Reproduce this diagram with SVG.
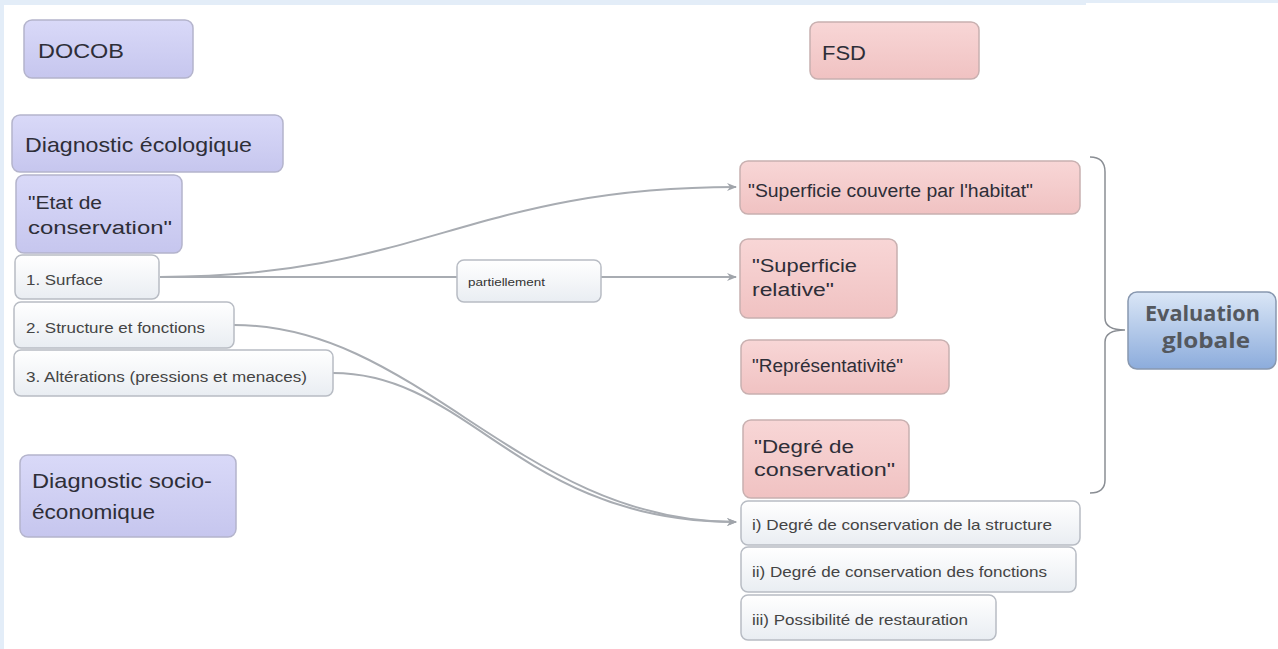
<svg xmlns="http://www.w3.org/2000/svg" width="1278" height="649" viewBox="0 0 1278 649">
<defs>
<linearGradient id="gL" x1="0" y1="0" x2="0" y2="1"><stop offset="0" stop-color="#d9d9f8"/><stop offset="1" stop-color="#c6c6ee"/></linearGradient>
<linearGradient id="gP" x1="0" y1="0" x2="0" y2="1"><stop offset="0" stop-color="#f8d6d6"/><stop offset="1" stop-color="#f0c2c2"/></linearGradient>
<linearGradient id="gW" x1="0" y1="0" x2="0" y2="1"><stop offset="0" stop-color="#ffffff"/><stop offset="1" stop-color="#e9edf2"/></linearGradient>
<linearGradient id="gB" x1="0" y1="0" x2="0" y2="1"><stop offset="0" stop-color="#dae6f6"/><stop offset="1" stop-color="#8cacdc"/></linearGradient>
<marker id="arr" markerWidth="10" markerHeight="8" refX="9" refY="4" orient="auto" markerUnits="userSpaceOnUse"><path d="M0,0 L10,4 L0,8 L3,4 Z" fill="#a0a4aa"/></marker>
</defs>
<style>
.lav{fill:url(#gL);stroke:#b4b4cc;stroke-width:1.5}
.pink{fill:url(#gP);stroke:#c8b0b0;stroke-width:1.5}
.wht{fill:url(#gW);stroke:#b8bcc4;stroke-width:1.5}
.blu{fill:url(#gB);stroke:#8898b0;stroke-width:1.5}
text{font-family:"Liberation Sans",Arial,sans-serif;fill:#2e2e38}
.t21{font-size:21px}
.t18{font-size:18px}
.t15{font-size:15px;fill:#444}
.t10{font-size:10px;fill:#333}
.ev{font-family:"Open Sans","Liberation Sans",sans-serif;font-weight:bold;font-size:21px;fill:#54585e}
.conn{fill:none;stroke:#a8acb2;stroke-width:2}
</style>
<rect x="0" y="0" width="1278" height="649" fill="#ffffff"/>
<rect x="0" y="0" width="1086" height="5" fill="#e3edf8"/>
<rect x="1086" y="0" width="192" height="3" fill="#e3edf8"/>
<rect x="0" y="0" width="4" height="649" fill="#e3edf8"/>

<g id="connectors">
<path class="conn" d="M160,277 C420,277 470,187 736,187" marker-end="url(#arr)"/>
<path class="conn" d="M160,277 L457,277"/>
<path class="conn" d="M601,277 L736,277" marker-end="url(#arr)"/>
<path class="conn" d="M234,325 C420,325 520,522 736,522" marker-end="url(#arr)"/>
<path class="conn" d="M333,373 C470,373 520,522 736,522" marker-end="url(#arr)"/>
<path fill="none" stroke="#8a8e94" stroke-width="1.5" d="M1090,157 Q1105,157 1105,172 L1105,318 Q1105,330 1125,330 Q1105,330 1105,342 L1105,480 Q1105,493 1090,493"/>
</g>

<g id="docob"><rect class="lav" x="24" y="20" width="169" height="58" rx="8"/><text class="t21" x="38" y="58" textLength="86" lengthAdjust="spacingAndGlyphs">DOCOB</text></g>
<g id="fsd"><rect class="pink" x="810" y="22" width="169" height="57" rx="8"/><text class="t21" x="822" y="60" textLength="44" lengthAdjust="spacingAndGlyphs">FSD</text></g>
<g id="diag-eco"><rect class="lav" x="12" y="115" width="271" height="57" rx="8"/><text class="t21" x="25" y="152" textLength="227" lengthAdjust="spacingAndGlyphs">Diagnostic écologique</text></g>
<g id="etat"><rect class="lav" x="16" y="175" width="166" height="78" rx="8"/><text class="t18" x="28" y="209" textLength="74" lengthAdjust="spacingAndGlyphs">"Etat de</text><text class="t18" x="28" y="234" textLength="144" lengthAdjust="spacingAndGlyphs">conservation"</text></g>
<g id="surface"><rect class="wht" x="15" y="255" width="144" height="44" rx="7"/><text class="t15" x="26" y="285" textLength="77" lengthAdjust="spacingAndGlyphs">1. Surface</text></g>
<g id="structure"><rect class="wht" x="14" y="302" width="220" height="46" rx="7"/><text class="t15" x="26" y="333" textLength="179" lengthAdjust="spacingAndGlyphs">2. Structure et fonctions</text></g>
<g id="alterations"><rect class="wht" x="14" y="350" width="319" height="46" rx="7"/><text class="t15" x="26" y="382" textLength="281" lengthAdjust="spacingAndGlyphs">3. Altérations (pressions et menaces)</text></g>
<g id="diag-socio"><rect class="lav" x="20" y="455" width="216" height="82" rx="8"/><text class="t21" x="32" y="488" textLength="180" lengthAdjust="spacingAndGlyphs">Diagnostic socio-</text><text class="t21" x="32" y="519" textLength="123" lengthAdjust="spacingAndGlyphs">économique</text></g>
<g id="partiellement"><rect class="wht" x="457" y="260" width="144" height="42" rx="7"/><text class="t10" x="468" y="286" textLength="77" lengthAdjust="spacingAndGlyphs">partiellement</text></g>
<g id="sup-couverte"><rect class="pink" x="740" y="161" width="340" height="53" rx="8"/><text class="t18" x="748" y="197" textLength="285" lengthAdjust="spacingAndGlyphs">"Superficie couverte par l'habitat"</text></g>
<g id="sup-relative"><rect class="pink" x="740" y="239" width="157" height="79" rx="8"/><text class="t18" x="752" y="272" textLength="105" lengthAdjust="spacingAndGlyphs">"Superficie</text><text class="t18" x="752" y="296" textLength="82" lengthAdjust="spacingAndGlyphs">relative"</text></g>
<g id="representativite"><rect class="pink" x="741" y="340" width="208" height="54" rx="8"/><text class="t18" x="752" y="372" textLength="151" lengthAdjust="spacingAndGlyphs">"Représentativité"</text></g>
<g id="degre"><rect class="pink" x="743" y="420" width="166" height="78" rx="8"/><text class="t18" x="754" y="453" textLength="100" lengthAdjust="spacingAndGlyphs">"Degré de</text><text class="t18" x="754" y="476" textLength="141" lengthAdjust="spacingAndGlyphs">conservation"</text></g>
<g id="deg-structure"><rect class="wht" x="741" y="501" width="339" height="44" rx="7"/><text class="t15" x="752" y="530" textLength="300" lengthAdjust="spacingAndGlyphs">i) Degré de conservation de la structure</text></g>
<g id="deg-fonctions"><rect class="wht" x="741" y="547" width="335" height="45" rx="7"/><text class="t15" x="752" y="577" textLength="295" lengthAdjust="spacingAndGlyphs">ii) Degré de conservation des fonctions</text></g>
<g id="restauration"><rect class="wht" x="741" y="595" width="255" height="45" rx="7"/><text class="t15" x="752" y="625" textLength="216" lengthAdjust="spacingAndGlyphs">iii) Possibilité de restauration</text></g>
<g id="evaluation"><rect class="blu" x="1128" y="292" width="148" height="77" rx="9"/><text class="ev" x="1145" y="321" textLength="115" lengthAdjust="spacingAndGlyphs">Evaluation</text><text class="ev" x="1162" y="348" textLength="88" lengthAdjust="spacingAndGlyphs">globale</text></g>
</svg>
